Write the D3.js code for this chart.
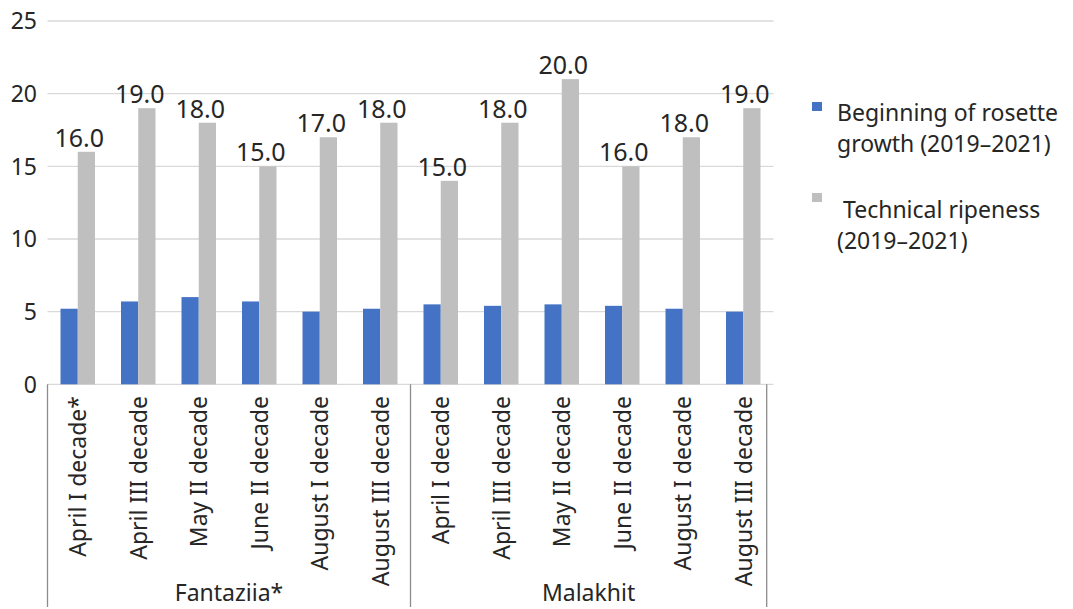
<!DOCTYPE html>
<html>
<head>
<meta charset="utf-8">
<script src="https://cdn.jsdelivr.net/npm/d3@7"></script>
<style>
  body { margin: 0; background: #fff; }
  text { font-family: "Noto Sans", "Open Sans", sans-serif; fill: #262626; }
</style>
</head>
<body>
<div id="chart"></div>
<script>
// Data
var groups = ["Fantaziia*", "Malakhit"];
var periods = [
  ["April I decade*", "April III decade", "May II decade", "June II decade", "August I decade", "August III decade"],
  ["April I decade", "April III decade", "May II decade", "June II decade", "August I decade", "August III decade"]
];
var seriesNames = ["Beginning of rosette growth (2019\u20132021)", "Technical ripeness (2019\u20132021)"];
var rosetteValues = [5.2, 5.7, 6.0, 5.7, 5.0, 5.2, 5.5, 5.4, 5.5, 5.4, 5.2, 5.0];
var ripenessValues = [16, 19, 18, 15, 17, 18, 14, 18, 21, 15, 17, 19];
var ripenessLabels = ["16.0", "19.0", "18.0", "15.0", "17.0", "18.0", "15.0", "18.0", "20.0", "16.0", "18.0", "19.0"];
var yTicks = [0, 5, 10, 15, 20, 25];
var colors = ["#4472c4", "#bfbfbf"];

// Build flat category list
var categories = [];
groups.forEach(function(g, gi) {
  periods[gi].forEach(function(p) {
    categories.push({group: g, period: p, key: g + "|" + p});
  });
});
categories.forEach(function(c, i) {
  c.rosette = rosetteValues[i];
  c.ripeness = ripenessValues[i];
  c.label = ripenessLabels[i];
});

var W = 1073, H = 609;
var plotLeft = 47.5, plotRight = 773.5, plotTop = 21, plotBottom = 384.3;

var svg = d3.select("#chart").append("svg")
  .attr("width", W)
  .attr("height", H);

var x = d3.scaleBand()
  .domain(categories.map(function(d) { return d.key; }))
  .range([plotLeft, plotRight])
  .paddingInner(0.43)
  .paddingOuter(0.215);

var xSub = d3.scaleBand()
  .domain(["rosette", "ripeness"])
  .range([0, x.bandwidth()]);

var y = d3.scaleLinear()
  .domain([0, 25])
  .range([plotBottom, plotTop]);

// Gridlines
svg.append("g")
  .selectAll("line")
  .data(yTicks)
  .enter()
  .append("line")
    .attr("x1", plotLeft)
    .attr("x2", plotRight)
    .attr("y1", function(d) { return y(d); })
    .attr("y2", function(d) { return y(d); })
    .attr("stroke", "#d9d9d9")
    .attr("stroke-width", 1.3);

// Y axis labels
svg.append("g")
  .selectAll("text")
  .data(yTicks)
  .enter()
  .append("text")
    .attr("x", 37)
    .attr("y", function(d) { return y(d); })
    .attr("dy", "0.36em")
    .attr("text-anchor", "end")
    .style("font-size", "23px")
    .text(function(d) { return d; });

// Bars for rosette growth
svg.selectAll(".barRosette")
  .data(categories)
  .enter()
  .append("rect")
    .attr("class", "barRosette")
    .attr("x", function(d) { return x(d.key) + xSub("rosette"); })
    .attr("y", function(d) { return y(d.rosette); })
    .attr("width", xSub.bandwidth())
    .attr("height", function(d) { return y(0) - y(d.rosette); })
    .attr("fill", colors[0]);

// Bars for technical ripeness
svg.selectAll(".barRipeness")
  .data(categories)
  .enter()
  .append("rect")
    .attr("class", "barRipeness")
    .attr("x", function(d) { return x(d.key) + xSub("ripeness"); })
    .attr("y", function(d) { return y(d.ripeness); })
    .attr("width", xSub.bandwidth())
    .attr("height", function(d) { return y(0) - y(d.ripeness); })
    .attr("fill", colors[1]);

// Value labels above the grey bars
svg.selectAll(".valueLabel")
  .data(categories)
  .enter()
  .append("text")
    .attr("class", "valueLabel")
    .attr("x", function(d) { return x(d.key) + x.bandwidth() / 2 + 1.5; })
    .attr("y", function(d) { return y(d.ripeness) - 5; })
    .attr("text-anchor", "middle")
    .style("font-size", "25px")
    .text(function(d) { return d.label; });

// Category labels (rotated)
svg.selectAll(".catLabel")
  .data(categories)
  .enter()
  .append("text")
    .attr("class", "catLabel")
    .attr("transform", function(d) {
      return "translate(" + (x(d.key) + x.bandwidth() / 2) + ",396) rotate(-90)";
    })
    .attr("dy", "0.36em")
    .attr("text-anchor", "end")
    .style("font-size", "23px")
    .text(function(d) { return d.period; });

// Group separators and labels
var step = x.step();
var groupBounds = groups.map(function(g, gi) {
  var keys = categories.filter(function(c) { return c.group === g; }).map(function(c) { return c.key; });
  var start = x(keys[0]) - x.paddingOuter() * step;
  var end = x(keys[keys.length - 1]) + x.bandwidth() + x.paddingOuter() * step;
  if (gi === groups.length - 1) end -= 6.8;
  return {group: g, start: start, end: end};
});

var sepX = [groupBounds[0].start];
groupBounds.forEach(function(b) { sepX.push(b.end); });

svg.append("g")
  .selectAll("line")
  .data(sepX)
  .enter()
  .append("line")
    .attr("x1", function(d) { return d; })
    .attr("x2", function(d) { return d; })
    .attr("y1", plotBottom)
    .attr("y2", 607)
    .attr("stroke", "#8c8c8c")
    .attr("stroke-width", 1.3);

svg.append("g")
  .selectAll("text")
  .data(groupBounds)
  .enter()
  .append("text")
    .attr("x", function(d) { return (d.start + d.end) / 2; })
    .attr("y", 601)
    .attr("text-anchor", "middle")
    .style("font-size", "23px")
    .text(function(d) { return d.group; });

// Legend
var legendLines = [
  ["Beginning of rosette", "growth (2019\u20132021)"],
  ["Technical ripeness", "(2019\u20132021)"]
];
var legendY = [107, 198];
var legend = svg.append("g");
legendLines.forEach(function(lines, i) {
  legend.append("rect")
    .attr("x", 812)
    .attr("y", legendY[i] - 5)
    .attr("width", 10)
    .attr("height", 9)
    .attr("fill", colors[i]);
  lines.forEach(function(t, j) {
    legend.append("text")
      .attr("x", (i === 1 && j === 0) ? 843 : 837)
      .attr("y", legendY[i] + 6 + j * 31 + (i === 1 ? 6 : 0))
      .attr("dy", "0.36em")
      .style("font-size", "23px")
      .text(t);
  });
});
</script>
</body>
</html>
